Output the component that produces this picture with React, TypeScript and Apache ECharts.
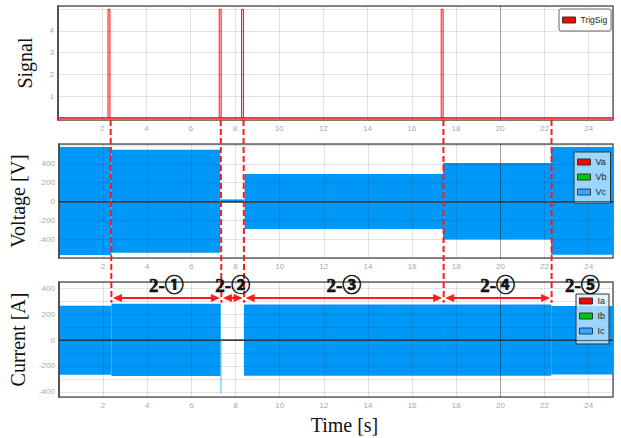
import React, { useEffect, useRef } from 'react';
import * as echarts from 'echarts';

// ---- tick labels ----
const timeTicks = [2, 4, 6, 8, 10, 12, 14, 16, 18, 20, 22, 24];
const signalTicks = [1, 2, 3, 4];
const voltageTicks = [-400, -200, 0, 200, 400];
const currentTicks = [-400, -200, 0, 200, 400];

// ---- axis ranges ----
const timeMax = 25.1;
const signalRange = [-0.1, 5.15];
const voltageRange = [-600, 610];
const currentRange = [-440, 450];

// ---- trigger signal ----
const pulseTimes = [2.26, 7.29, 8.3, 17.33];
const pulseHeight = 5;
const pulseWidth = 0.09;

// ---- voltage envelope (segment edges, upper & lower) ----
const voltageEdges = [0, 2.38, 7.31, 8.41, 17.4, 22.29, 25.1];
const voltageUpper = [577, 549, 22, 291, 408, 577];
const voltageLower = [-569, -545, -10, -293, -403, -566];

// ---- current envelope ----
const currentEdges = [0, 2.38, 7.33, 8.38, 17.4, 22.3, 25.1];
const currentUpper = [267, 281, 0, 275, 275, 265];
const currentLower = [-268, -278, 0, -276, -276, -265];
const currentSpike = [7.34, -413];

// ---- stage annotations ----
const stageBoundaries = [2.38, 7.36, 8.39, 17.43, 22.32];
const stageLabels = ['2-①', '2-②', '2-③', '2-④', '2-⑤'];
const dashEndCurrent = 290;
const arrowLevelCurrent = 327;
const labelLevelCurrent = 425;

const BLUE = '#0098f8';
const RED = '#ff1a1a';

function bandData(edges: number[], upper: number[], lower: number[]) {
  return upper.map((u, i) => [edges[i], edges[i + 1], lower[i], u]);
}

function pulseData() {
  return pulseTimes.map((t) => [t, t + pulseWidth, 0, pulseHeight]);
}

const rectRender = (fill: string) => (params: any, api: any) => {
  const a = api.coord([api.value(0), api.value(3)]);
  const b = api.coord([api.value(1), api.value(2)]);
  return {
    type: 'rect',
    shape: { x: a[0], y: a[1], width: b[0] - a[0], height: b[1] - a[1] },
    style: { fill },
  };
};

const pulseRender = (params: any, api: any) => {
  const a = api.coord([api.value(0), api.value(3)]);
  const b = api.coord([api.value(1), api.value(2)]);
  return {
    type: 'group',
    children: [
      {
        type: 'rect',
        shape: { x: a[0], y: a[1], width: b[0] - a[0], height: b[1] - a[1] },
        style: { fill: '#ffc8c8' },
      },
      {
        type: 'polyline',
        shape: { points: [[a[0], b[1]], [a[0], a[1]], [b[0], a[1]], [b[0], b[1]]] },
        style: { stroke: '#ff2020', lineWidth: 1, fill: 'none' },
      },
    ],
  };
};

const tickFont = { fontFamily: 'Liberation Sans', fontSize: 8, color: '#a8a8a8' };
const nameFont = { fontFamily: 'Liberation Serif', fontSize: 20, color: '#111' };
const gridLine = { lineStyle: { color: 'rgba(0,0,0,0.11)', width: 1 } };

function labelFrom(list: number[]) {
  return (v: number) => (list.some((t) => Math.abs(t - v) < 1e-6) ? String(v) : '');
}

const legendBase = {
  orient: 'vertical',
  icon: 'rect',
  itemWidth: 13,
  itemHeight: 6,
  textStyle: { fontFamily: 'Liberation Sans', fontSize: 9, color: '#222', lineHeight: 10 },
  borderColor: '#333',
  borderWidth: 1,
  selectedMode: false,
};

export default function App() {
  const ref = useRef<HTMLDivElement>(null);
  useEffect(() => {
    if (!ref.current) return;
    const chart = echarts.init(ref.current, undefined, { renderer: 'svg' });
    const grids = [
      { left: 58, top: 6, width: 555, height: 114 },
      { left: 58, top: 144, width: 555, height: 114 },
      { left: 58, top: 282, width: 555, height: 115 },
    ].map((g) => ({ ...g, show: true, borderColor: '#666', borderWidth: 1.5, backgroundColor: '#fff' }));

    const xAxes = [0, 1, 2].map((i) => ({
      type: 'value',
      gridIndex: i,
      min: 0,
      max: timeMax,
      interval: 2,
      z: 3,
      axisLine: { show: true, lineStyle: { color: '#444', width: 1.5 } },
      axisTick: { show: false },
      axisLabel: { ...tickFont, margin: 4, formatter: labelFrom(timeTicks) },
      splitLine: gridLine,
      name: i === 2 ? 'Time [s]' : '',
      nameLocation: 'middle',
      nameGap: 18,
      nameTextStyle: { ...nameFont, padding: [0, 0, 0, 17] },
    }));

    const yAxis = [
      { range: signalRange, split: 5, ticks: signalTicks, name: 'Signal' },
      { range: voltageRange, split: 6, ticks: voltageTicks, name: 'Voltage [V]' },
      { range: currentRange, split: 9, ticks: currentTicks, name: 'Current [A]' },
    ].map((a, i) => ({
      type: 'value',
      gridIndex: i,
      min: a.range[0],
      max: a.range[1],
      splitNumber: a.split,
      z: 3,
      axisLine: { show: true, lineStyle: { color: '#444', width: 1.5 } },
      axisTick: { show: false },
      axisLabel: { ...tickFont, margin: 4, formatter: labelFrom(a.ticks) },
      splitLine: gridLine,
      name: a.name,
      nameLocation: 'middle',
      nameGap: 23,
      nameTextStyle: nameFont,
    }));

    const darkLines = (withZero: boolean) => ({
      silent: true,
      symbol: 'none',
      label: { show: false },
      data: [
        { xAxis: 20, lineStyle: { color: 'rgba(0,0,0,0.3)', type: 'solid', width: 1 } },
        ...(withZero ? [{ yAxis: 0, lineStyle: { color: 'rgba(0,40,70,0.6)', type: 'solid', width: 1 } }] : []),
      ],
    });

    const option: any = {
      animation: false,
      backgroundColor: '#fff',
      grid: grids,
      xAxis: xAxes,
      yAxis,
      legend: [
        {
          ...legendBase,
          left: 559,
          top: 9,
          padding: [6, 4, 6, 3],
          backgroundColor: '#fff',
          borderColor: '#666',
          borderRadius: 2,
          textStyle: { ...legendBase.textStyle, fontSize: 8.5 },
          itemGap: 3,
          data: [{ name: 'TrigSig', itemStyle: { color: '#ff0000', borderColor: '#333', borderWidth: 1 } }],
        },
        {
          ...legendBase,
          left: 574,
          top: 152,
          padding: [5, 4, 6, 3],
          itemGap: 5,
          backgroundColor: 'rgba(215,238,255,0.72)',
          data: [
            { name: 'Va', itemStyle: { color: '#ff0000', borderColor: '#333', borderWidth: 1 } },
            { name: 'Vb', itemStyle: { color: '#00c800', borderColor: '#333', borderWidth: 1 } },
            { name: 'Vc', itemStyle: { color: '#3aa8f4', borderColor: '#1a3a70', borderWidth: 1 } },
          ],
        },
        {
          ...legendBase,
          left: 576,
          top: 294,
          padding: [2, 4, 8, 3],
          itemGap: 5,
          backgroundColor: 'rgba(215,238,255,0.72)',
          data: [
            { name: 'Ia', itemStyle: { color: '#ff0000', borderColor: '#333', borderWidth: 1 } },
            { name: 'Ib', itemStyle: { color: '#00c800', borderColor: '#333', borderWidth: 1 } },
            { name: 'Ic', itemStyle: { color: '#3aa8f4', borderColor: '#1a3a70', borderWidth: 1 } },
          ],
        },
      ],
      series: [
        {
          name: 'TrigSig',
          type: 'custom',
          xAxisIndex: 0,
          yAxisIndex: 0,
          data: pulseData(),
          encode: { x: [0, 1], y: [2, 3] },
          renderItem: pulseRender,
          itemStyle: { color: '#ff0000' },
          emphasis: { disabled: true },
          silent: true,
          markLine: {
            silent: true,
            symbol: 'none',
            label: { show: false },
            data: [
              { xAxis: 20, lineStyle: { color: 'rgba(0,0,0,0.3)', type: 'solid', width: 1 } },
              { yAxis: 0, lineStyle: { color: '#ff4040', type: 'solid', width: 1 } },
            ],
          },
        },
        { name: 'Va', type: 'line', xAxisIndex: 1, yAxisIndex: 1, data: [], itemStyle: { color: '#ff0000' } },
        { name: 'Vb', type: 'line', xAxisIndex: 1, yAxisIndex: 1, data: [], itemStyle: { color: '#00c800' } },
        {
          name: 'Vc',
          type: 'custom',
          xAxisIndex: 1,
          yAxisIndex: 1,
          data: bandData(voltageEdges, voltageUpper, voltageLower),
          encode: { x: [0, 1], y: [2, 3] },
          renderItem: rectRender(BLUE),
          itemStyle: { color: BLUE },
          silent: true,
          markLine: darkLines(true),
        },
        { name: 'Ia', type: 'line', xAxisIndex: 2, yAxisIndex: 2, data: [], itemStyle: { color: '#ff0000' } },
        { name: 'Ib', type: 'line', xAxisIndex: 2, yAxisIndex: 2, data: [], itemStyle: { color: '#00c800' } },
        {
          name: 'Ic',
          type: 'custom',
          xAxisIndex: 2,
          yAxisIndex: 2,
          data: bandData(currentEdges, currentUpper, currentLower),
          encode: { x: [0, 1], y: [2, 3] },
          renderItem: rectRender(BLUE),
          itemStyle: { color: BLUE },
          silent: true,
          markLine: darkLines(true),
        },
        {
          name: 'spike',
          type: 'line',
          xAxisIndex: 2,
          yAxisIndex: 2,
          data: [[currentSpike[0], 0], currentSpike],
          symbol: 'none',
          silent: true,
          lineStyle: { color: '#6cc0f0', width: 1.2 },
        },
      ],
    };
    chart.setOption(option);

    // annotations positioned through the chart's own scales
    const px = (grid: number, x: number, y: number) => chart.convertToPixel({ gridIndex: grid }, [x, y]) as number[];
    const elements: any[] = [];
    stageBoundaries.forEach((t) => {
      const top = px(0, t, signalRange[0]);
      const bot = px(2, t, dashEndCurrent);
      elements.push({
        type: 'line',
        z: 100,
        silent: true,
        shape: { x1: top[0], y1: top[1], x2: bot[0], y2: bot[1] },
        style: { stroke: RED, lineWidth: 2, lineDash: [6, 3] },
      });
    });
    for (let i = 0; i < stageBoundaries.length - 1; i++) {
      const a = px(2, stageBoundaries[i], arrowLevelCurrent);
      const b = px(2, stageBoundaries[i + 1], arrowLevelCurrent);
      const x1 = a[0] + 1.5;
      const x2 = b[0] - 1.5;
      const y = a[1];
      const hl = 9;
      const hh = 4;
      elements.push(
        { type: 'line', z: 100, silent: true, shape: { x1: x1 + hl - 1, y1: y, x2: x2 - hl + 1, y2: y }, style: { stroke: RED, lineWidth: 2 } },
        { type: 'polygon', z: 100, silent: true, shape: { points: [[x1, y], [x1 + hl, y - hh], [x1 + hl, y + hh]] }, style: { fill: RED } },
        { type: 'polygon', z: 100, silent: true, shape: { points: [[x2, y], [x2 - hl, y - hh], [x2 - hl, y + hh]] }, style: { fill: RED } }
      );
    }
    const ends = [...stageBoundaries, timeMax];
    stageLabels.forEach((lab, i) => {
      const a = px(2, ends[i], labelLevelCurrent);
      const b = px(2, ends[i + 1], labelLevelCurrent);
      elements.push({
        type: 'text',
        z: 101,
        silent: true,
        x: (a[0] + b[0]) / 2,
        y: a[1],
        style: {
          text: lab,
          fill: '#111',
          stroke: '#111',
          lineWidth: 0.6,
          font: "bold 19px 'Liberation Serif', 'Noto Sans CJK JP', serif",
          align: 'center',
          verticalAlign: 'middle',
        },
      });
    });
    chart.setOption({ graphic: { elements } });

    return () => chart.dispose();
  }, []);
  return <div ref={ref} style={{ position: 'absolute', left: 0, top: 0, width: 621, height: 438 }} />;
}
